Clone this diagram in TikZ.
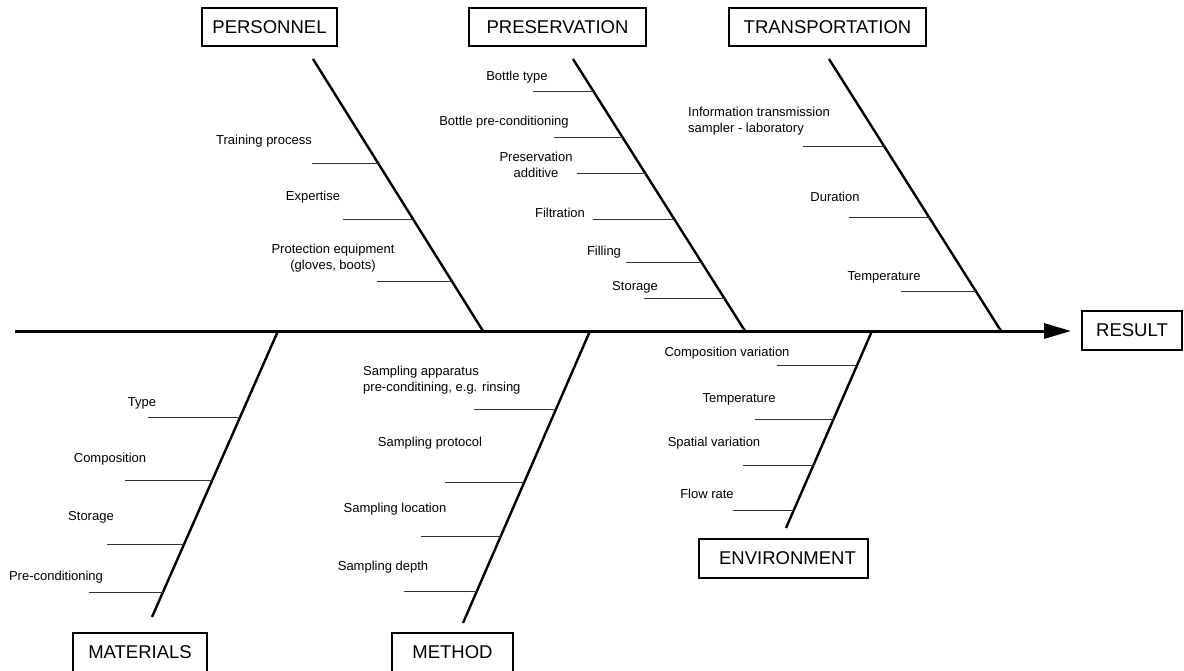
\documentclass[tikz,border=0pt]{standalone}
\usepackage{fontspec}
\setmainfont{Liberation Sans}
\usetikzlibrary{arrows.meta}
\tikzset{
  x=1pt, y=-1pt,
  catbox/.style={draw=black, line width=2pt, minimum height=38pt, inner sep=0pt,
    font=\fontsize{18.5}{22}\selectfont},
  lbl/.style={inner sep=0pt, align=center, font=\fontsize{13}{16}\selectfont},
  lblL/.style={inner sep=0pt, align=left, anchor=west, font=\fontsize{13}{16}\selectfont},
  bone/.style={line width=2.4pt, black},
  spine/.style={line width=3pt, black},
  subl/.style={line width=1pt, black!80},
}
\newcommand\subln[3]{%
  \path (intersection cs: first line={(#1T)--(#1B)}, second line={(0,#3)--(10,#3)}) coordinate (tmpx);
  \draw[subl] (#2,#3) -- (tmpx |- #2,#3);}
\begin{document}
\begin{tikzpicture}
\useasboundingbox (0,0) rectangle (1184,671);
% category boxes
\node[catbox, minimum width=135pt] (personnel) at (269.5,27) {PERSONNEL};
\node[catbox, minimum width=177pt] (preservation) at (557.5,27) {PRESERVATION};
\node[catbox, minimum width=197pt] (transportation) at (827.5,27) {TRANSPORTATION};
\node[catbox, minimum width=100pt, minimum height=39pt] (result) at (1132,330.5) {RESULT};
\node[catbox, minimum width=134pt, minimum height=46pt] (materials) at (140,656) {\raisebox{7pt}{MATERIALS}};
\node[catbox, minimum width=121pt, minimum height=46pt] (method) at (452.5,656) {\raisebox{7pt}{METHOD}};
\node[catbox, minimum width=169pt, minimum height=39pt] (environment) at (783.5,558.5) {\hspace{8pt}ENVIRONMENT};
% spine
\coordinate (tail) at (15,331);
\coordinate (head) at (1071,331);
\draw[spine, -{Triangle[length=27pt,width=15pt]}] (tail) -- (head);
% bones
\coordinate (pT) at (313,59);  \coordinate (pB) at (483,331);
\coordinate (sT) at (573,59);  \coordinate (sB) at (745,331);
\coordinate (tT) at (829,59);  \coordinate (tB) at (1001,331);
\coordinate (mT) at (278,331); \coordinate (mB) at (152,617);
\coordinate (hT) at (590,331); \coordinate (hB) at (463,623);
\coordinate (eT) at (872,331); \coordinate (eB) at (786,528);
\draw[bone] (pT) -- (pB);
\draw[bone] (sT) -- (sB);
\draw[bone] (tT) -- (tB);
\draw[bone] (mT) -- (mB);
\draw[bone] (hT) -- (hB);
\draw[bone] (eT) -- (eB);
% PERSONNEL
\node[lbl] (p1) at (264,141) {Training process};
\node[lbl] (p2) at (313,197) {Expertise};
\node[lbl] (p3) at (333,258.5) {Protection equipment\\(gloves, boots)};
\subln{p}{312}{164}
\subln{p}{343}{220}
\subln{p}{377}{282}
% PRESERVATION
\node[lbl] (s1) at (517,77) {Bottle type};
\node[lbl] (s2) at (504,122) {Bottle pre-conditioning};
\node[lbl] (s3) at (536,165) {Preservation\\additive};
\node[lbl] (s4) at (560,213) {Filtration};
\node[lbl] (s5) at (604,252) {Filling};
\node[lbl] (s6) at (635,287) {Storage};
\subln{s}{533}{92}
\subln{s}{554}{138}
\subln{s}{577}{174}
\subln{s}{593}{220}
\subln{s}{626}{263}
\subln{s}{644}{299}
% TRANSPORTATION
\node[lblL] (t1) at (688,121) {Information transmission\\sampler - laboratory};
\node[lbl] (t2) at (835,197) {Duration};
\node[lbl] (t3) at (884,277) {Temperature};
\subln{t}{803}{147}
\subln{t}{849}{218}
\subln{t}{901}{292}
% MATERIALS
\node[lbl] (m1) at (142,403) {Type};
\node[lbl] (m2) at (110,459) {Composition};
\node[lbl] (m3) at (91,517) {Storage};
\node[lbl] (m4) at (56,577) {Pre-conditioning};
\subln{m}{148}{417}
\subln{m}{125}{480}
\subln{m}{107}{544}
\subln{m}{89}{592}
% METHOD
\node[lblL] (h1) at (363,380) {Sampling apparatus\\pre-conditining, e.g. rinsing};
\node[lbl] (h2) at (430,443) {Sampling protocol};
\node[lbl] (h3) at (395,509) {Sampling location};
\node[lbl] (h4) at (383,567) {Sampling depth};
\subln{h}{474}{409}
\subln{h}{445}{482}
\subln{h}{421}{536}
\subln{h}{404}{591}
% ENVIRONMENT
\node[lbl] (e1) at (727,353) {Composition variation};
\node[lbl] (e2) at (739,399) {Temperature};
\node[lbl] (e3) at (714,443) {Spatial variation};
\node[lbl] (e4) at (707,494) {Flow rate};
\subln{e}{777}{365}
\subln{e}{755}{419}
\subln{e}{743}{465}
\subln{e}{733}{510}
\end{tikzpicture}
\end{document}
